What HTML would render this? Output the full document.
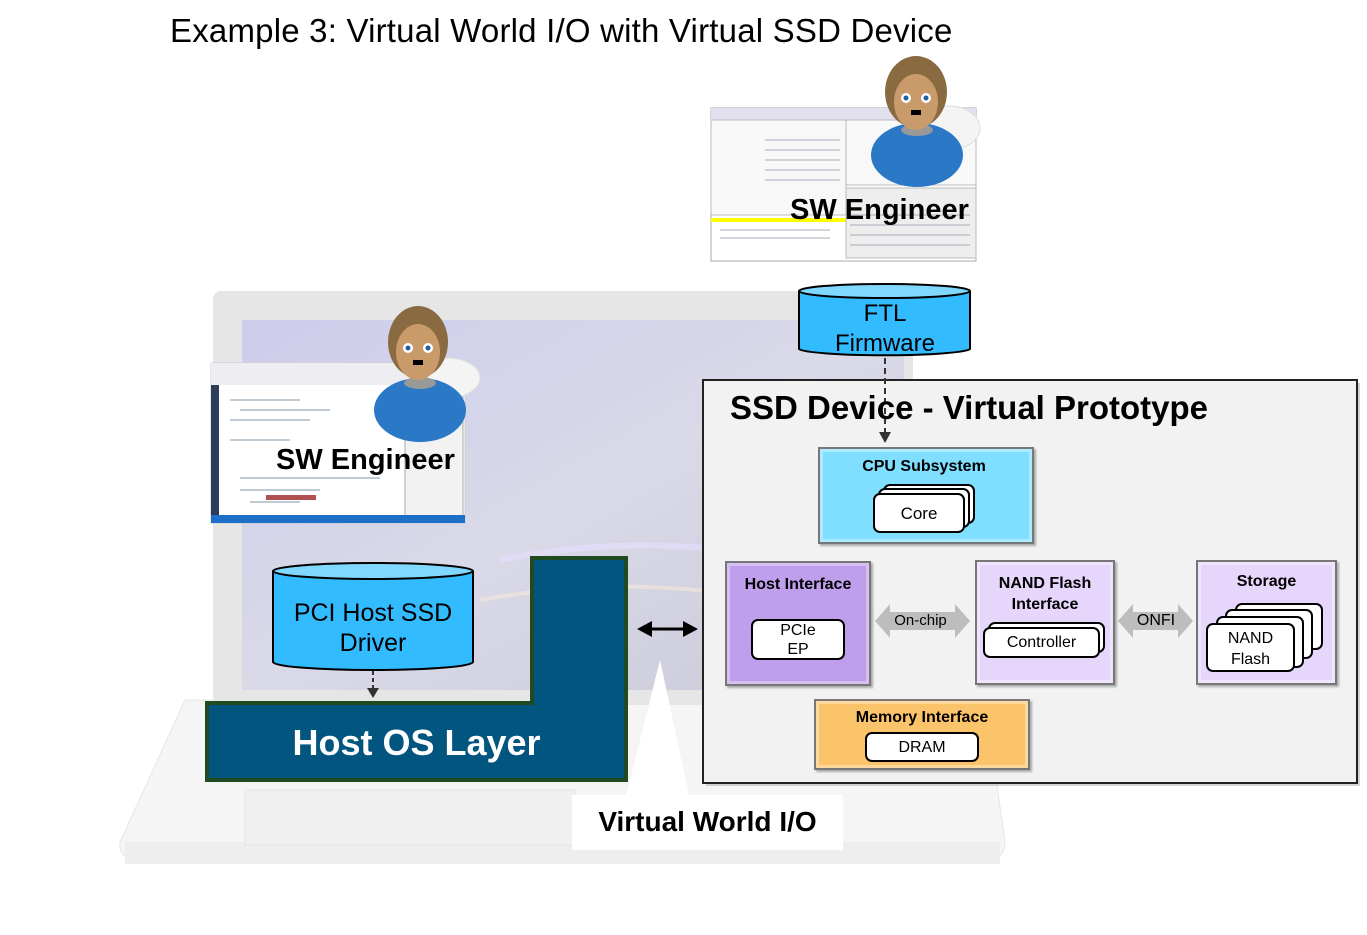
<!DOCTYPE html>
<html><head><meta charset="utf-8"><style>
body{margin:0;width:1367px;height:935px;background:#fff;position:relative;overflow:hidden;font-family:"Liberation Sans",sans-serif}
.a{position:absolute}
.t{position:absolute;text-align:center;color:#000}
.blk{position:absolute;border:2px solid #777;box-shadow:inset 0 0 0 3px rgba(255,255,255,.35),2px 2px 2px rgba(0,0,0,.3)}
.wb{position:absolute;background:#fff;border:2px solid #000;border-radius:7px;text-align:center;font-size:17px;box-sizing:border-box}
.bt{font-weight:bold;font-size:17px}
</style></head><body>
<svg class="a" style="left:0;top:0" width="1367" height="935">
<defs>
<linearGradient id="scr" x1="0" y1="0" x2="1" y2="1"><stop offset="0" stop-color="#cdcdec"/><stop offset="0.5" stop-color="#d9d9e8"/><stop offset="1" stop-color="#c9c9d8"/></linearGradient>
</defs>
<!-- laptop base -->
<path d="M185 700 L985 700 L1005 842 Q1005 858 990 858 L135 858 Q118 858 120 842 Z" fill="#f5f5f5" stroke="#e6e6e6"/>
<rect x="125" y="842" width="875" height="22" fill="#eeeeee"/>
<rect x="245" y="790" width="330" height="55" fill="#f0f0f0" stroke="#e4e4e4"/>
<!-- screen -->
<rect x="213" y="291" width="700" height="414" rx="8" fill="#e6e6e6"/>
<rect x="242" y="320" width="662" height="370" fill="url(#scr)"/>
<path d="M500 560 Q700 520 904 590" stroke="#e8e0ff" stroke-width="6" fill="none" opacity=".6"/>
<path d="M480 600 Q700 560 904 640" stroke="#f4e8d8" stroke-width="4" fill="none" opacity=".6"/>
<!-- screenshot 1 -->
<rect x="211" y="363" width="254" height="160" fill="#fff" stroke="#ccc"/>
<rect x="211" y="363" width="254" height="22" fill="#eeeef2"/>
<rect x="211" y="385" width="8" height="133" fill="#2d3c5a"/>
<rect x="405" y="385" width="58" height="133" fill="#f2f2f2" stroke="#aaa"/>
<rect x="211" y="515" width="254" height="8" fill="#1e6fc8"/>
<g stroke="#9ab" stroke-width="1.2">
<line x1="230" y1="400" x2="300" y2="400"/><line x1="240" y1="410" x2="330" y2="410"/><line x1="230" y1="420" x2="310" y2="420"/><line x1="230" y1="440" x2="290" y2="440"/><line x1="240" y1="478" x2="380" y2="478"/><line x1="240" y1="490" x2="320" y2="490"/><line x1="250" y1="502" x2="300" y2="502"/></g>
<rect x="266" y="495" width="50" height="5" fill="#b05050"/>
<!-- screenshot 2 -->
<rect x="711" y="108" width="265" height="153" fill="#fff" stroke="#aaa"/>
<rect x="711" y="108" width="265" height="12" fill="#e0e0ee"/>
<rect x="711" y="120" width="135" height="95" fill="#f8f8f8" stroke="#bbb"/>
<rect x="846" y="120" width="130" height="65" fill="#f8f8f8" stroke="#bbb"/>
<rect x="711" y="218" width="135" height="4" fill="#ffff00"/>
<rect x="846" y="188" width="130" height="70" fill="#eee" stroke="#bbb"/>
<g stroke="#aab" stroke-width="1"><line x1="765" y1="140" x2="840" y2="140"/><line x1="765" y1="150" x2="840" y2="150"/><line x1="765" y1="160" x2="840" y2="160"/><line x1="765" y1="170" x2="840" y2="170"/><line x1="765" y1="180" x2="840" y2="180"/><line x1="720" y1="230" x2="830" y2="230"/><line x1="720" y1="238" x2="830" y2="238"/><line x1="850" y1="215" x2="970" y2="215"/><line x1="850" y1="225" x2="970" y2="225"/><line x1="850" y1="235" x2="970" y2="235"/><line x1="850" y1="245" x2="970" y2="245"/></g>
<!-- person 1 -->
<ellipse cx="448" cy="378" rx="32" ry="20" fill="#f4f4f4" stroke="#ddd"/>
<ellipse cx="420" cy="410" rx="46" ry="32" fill="#2a78c6"/>
<ellipse cx="420" cy="383" rx="16" ry="6" fill="#999"/>
<ellipse cx="418" cy="342" rx="30" ry="36" fill="#8a6a40"/>
<ellipse cx="418" cy="352" rx="22" ry="28" fill="#c99a6a"/>
<circle cx="408" cy="348" r="5" fill="#fff"/><circle cx="428" cy="348" r="5" fill="#fff"/>
<circle cx="408" cy="348" r="2.5" fill="#2060a0"/><circle cx="428" cy="348" r="2.5" fill="#2060a0"/>
<rect x="413" y="360" width="10" height="5" fill="#000"/>
<!-- person 2 -->
<ellipse cx="948" cy="128" rx="32" ry="22" fill="#f4f4f4" stroke="#ddd"/>
<ellipse cx="917" cy="155" rx="46" ry="32" fill="#2a78c6"/>
<ellipse cx="917" cy="130" rx="16" ry="6" fill="#999"/>
<ellipse cx="916" cy="92" rx="31" ry="36" fill="#8a6a40"/>
<ellipse cx="916" cy="102" rx="22" ry="28" fill="#c99a6a"/>
<circle cx="906" cy="98" r="5" fill="#fff"/><circle cx="926" cy="98" r="5" fill="#fff"/>
<circle cx="906" cy="98" r="2.5" fill="#2060a0"/><circle cx="926" cy="98" r="2.5" fill="#2060a0"/>
<rect x="911" y="110" width="10" height="5" fill="#000"/>
<!-- FTL cylinder -->
<path d="M799 291 L799 349 A86 7 0 0 0 970 349 L970 291" fill="#33bbff" stroke="#000" stroke-width="2"/>
<ellipse cx="884.5" cy="291" rx="85.5" ry="7" fill="#80d8ff" stroke="#000" stroke-width="2"/>
<!-- PCI cylinder -->
<path d="M273 571 L273 662 A100 8 0 0 0 473 662 L473 571" fill="#33bbff" stroke="#000" stroke-width="2"/>
<ellipse cx="373" cy="571" rx="100" ry="8" fill="#80d8ff" stroke="#000" stroke-width="2"/>
<line x1="373" y1="671" x2="373" y2="688" stroke="#333" stroke-width="2" stroke-dasharray="4 3"/>
<path d="M367 688 L379 688 L373 698 Z" fill="#333"/>
<!-- Host OS -->
<path d="M207 703 L532 703 L532 558 L626 558 L626 780 L207 780 Z" fill="#02557f" stroke="#1f4a22" stroke-width="4"/>
<!-- callout -->
<path d="M660 660 L625 800 L690 800 Z" fill="#fff"/>
<rect x="572" y="795" width="271" height="55" fill="#fff"/>
<!-- double arrow -->
<line x1="648" y1="629" x2="688" y2="629" stroke="#000" stroke-width="3"/>
<path d="M637 629 L652 621 L652 637 Z M698 629 L683 621 L683 637 Z" fill="#000"/>
<!-- SSD box -->
<rect x="706" y="383" width="654" height="403" fill="#aaa" opacity=".5"/>
<rect x="703" y="380" width="654" height="403" fill="#f2f2f2" stroke="#222" stroke-width="2"/>
<line x1="885" y1="358" x2="885" y2="432" stroke="#333" stroke-width="2" stroke-dasharray="6 4"/>
<path d="M879 432 L891 432 L885 443 Z" fill="#333"/>
<!-- gray arrows -->
<path d="M875 621 L890 604 L890 612 L955 612 L955 604 L970 621 L955 638 L955 630 L890 630 L890 638 Z" fill="#bdbdbd"/>
<path d="M1118 621 L1133 604 L1133 612 L1178 612 L1178 604 L1193 621 L1178 638 L1178 630 L1133 630 L1133 638 Z" fill="#bdbdbd"/>
</svg>
<div class="t" style="left:170px;top:12px;font-size:33px;letter-spacing:0.2px;text-align:left;white-space:nowrap">Example 3: Virtual World I/O with Virtual SSD Device</div>
<div class="t" style="left:790px;top:194px;font-size:29px;font-weight:bold;white-space:nowrap">SW Engineer</div>
<div class="t" style="left:276px;top:444px;font-size:29px;font-weight:bold;white-space:nowrap">SW Engineer</div>
<div class="t" style="left:799px;top:299px;width:172px;font-size:24px;line-height:30px">FTL<br>Firmware</div>
<div class="t" style="left:273px;top:598px;width:200px;font-size:25px;line-height:30px">PCI Host SSD<br>Driver</div>
<div class="t" style="left:207px;top:722px;width:419px;font-size:36px;font-weight:bold;color:#fff">Host OS Layer</div>
<div class="t" style="left:572px;top:806px;width:271px;font-size:28px;font-weight:bold">Virtual World I/O</div>
<div class="t" style="left:730px;top:389px;font-size:33px;font-weight:bold;white-space:nowrap;text-align:left">SSD Device - Virtual Prototype</div>

<div class="blk" style="left:818px;top:447px;width:212px;height:93px;background:#80dfff"></div>
<div class="t bt" style="left:818px;top:458px;width:212px;font-size:16px">CPU Subsystem</div>
<div class="wb" style="left:883px;top:484px;width:92px;height:40px"></div>
<div class="wb" style="left:878px;top:488px;width:92px;height:40px"></div>
<div class="wb" style="left:873px;top:493px;width:92px;height:40px;line-height:38px">Core</div>

<div class="blk" style="left:725px;top:561px;width:142px;height:121px;background:#bf9fec"></div>
<div class="t bt" style="left:725px;top:576px;width:146px;font-size:16px">Host Interface</div>
<div class="wb" style="left:751px;top:619px;width:94px;height:41px;line-height:19px;font-size:16px">PCIe<br>EP</div>

<div class="blk" style="left:975px;top:560px;width:136px;height:121px;background:#e6d6fb"></div>
<div class="t bt" style="left:975px;top:573px;width:140px;font-size:16px;line-height:21px">NAND Flash<br>Interface</div>
<div class="wb" style="left:988px;top:622px;width:117px;height:31px"></div>
<div class="wb" style="left:983px;top:627px;width:117px;height:31px;line-height:28px;font-size:16px">Controller</div>

<div class="blk" style="left:1196px;top:560px;width:137px;height:121px;background:#e6d6fb"></div>
<div class="t bt" style="left:1196px;top:573px;width:141px;font-size:16px">Storage</div>
<div class="wb" style="left:1235px;top:603px;width:88px;height:47px"></div>
<div class="wb" style="left:1225px;top:609px;width:88px;height:50px"></div>
<div class="wb" style="left:1216px;top:616px;width:88px;height:52px"></div>
<div class="wb" style="left:1206px;top:623px;width:89px;height:49px;line-height:21px;font-size:16px;padding-top:3px">NAND<br>Flash</div>

<div class="blk" style="left:814px;top:699px;width:212px;height:67px;background:#fbc36a"></div>
<div class="t bt" style="left:814px;top:709px;width:216px;font-size:16px">Memory Interface</div>
<div class="wb" style="left:865px;top:732px;width:114px;height:30px;line-height:27px;font-size:16px">DRAM</div>

<div class="t" style="left:878px;top:612px;width:85px;font-size:15px">On-chip</div>
<div class="t" style="left:1128px;top:612px;width:56px;font-size:16px">ONFI</div>
</body></html>
